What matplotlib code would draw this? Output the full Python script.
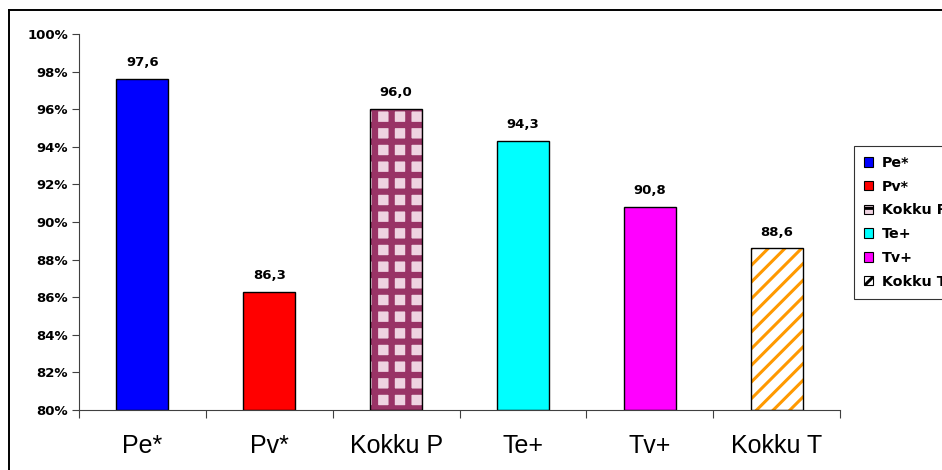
import matplotlib
matplotlib.use("Agg")
import matplotlib.pyplot as plt
from matplotlib.lines import Line2D
from matplotlib.patches import Patch
from matplotlib.ticker import FuncFormatter

# Data
categories = ["Pe*", "Pv*", "Kokku P", "Te+", "Tv+", "Kokku T"]
values = [97.6, 86.3, 96.0, 94.3, 90.8, 88.6]
y_ticks = [80, 82, 84, 86, 88, 90, 92, 94, 96, 98, 100]

# Styling per bar: (face, hatch, hatch colour, hatch width)
styles = [
    ("#0000FF", None, None, 0),
    ("#FF0000", None, None, 0),
    ("#EFD3E1", "+", "#993366", 4.5),
    ("#00FFFF", None, None, 0),
    ("#FF00FF", None, None, 0),
    ("#FFFFFF", "//", "#FF9900", 2.2),
]

plt.rcParams["font.family"] = ["DejaVu Sans"]
small = {"family": "DejaVu Sans", "weight": "bold", "size": 9.5}
legend_font = {"family": "DejaVu Sans", "weight": "bold", "size": 10.3}

fig = plt.figure(figsize=(9.42, 4.70), dpi=100)
ax = fig.add_axes([79 / 942, 1 - 410 / 470, (840 - 79) / 942, (410 - 34) / 470])

x = list(range(len(categories)))
width = 0.41
base = 80
handles = []
for i, (v, (face, hatch, hcol, hlw)) in enumerate(zip(values, styles)):
    if hatch:
        plt.rcParams["hatch.linewidth"] = hlw
        ax.bar(i, v - base, width, bottom=base, color=face, edgecolor=hcol,
               hatch=hatch, linewidth=0, zorder=2)
        ax.bar(i, v - base, width, bottom=base, fill=False, edgecolor="black",
               linewidth=1.0, zorder=3)
        handles.append(Patch(facecolor=face, edgecolor="black", hatch=hatch,
                             linewidth=0.8, label=categories[i]))
    else:
        ax.bar(i, v - base, width, bottom=base, color=face, edgecolor="black",
               linewidth=1.0, zorder=2)
        handles.append(Patch(facecolor=face, edgecolor="black", linewidth=0.8,
                             label=categories[i]))
    ax.annotate(f"{v:.1f}".replace(".", ","), (i, v), xytext=(0, 7),
                textcoords="offset points", ha="center", va="bottom",
                fontproperties=small)

ax.set_xlim(-0.5, len(categories) - 0.5)
ax.set_ylim(80, 100)
ax.set_yticks(y_ticks)
ax.yaxis.set_major_formatter(FuncFormatter(lambda v, p: f"{int(v)}%"))
for lab in ax.get_yticklabels():
    lab.set_fontproperties(small)

# category boundary ticks, labels centred under bars
ax.set_xticks([i - 0.5 for i in range(len(categories) + 1)])
ax.set_xticklabels([])
ax.set_xticks(x, minor=True)
ax.set_xticklabels(categories, minor=True, fontsize=18, family="Liberation Sans")
ax.tick_params(axis="x", which="minor", length=0, pad=17)
ax.tick_params(axis="x", which="major", length=6, width=0.8, color="#404040", direction="out")
ax.tick_params(axis="y", length=5, width=0.8, color="#404040", direction="out", pad=3)

for s in ("top", "right"):
    ax.spines[s].set_visible(False)
for s in ("left", "bottom"):
    ax.spines[s].set_color("#404040")
    ax.spines[s].set_linewidth(0.8)

leg = fig.legend(handles=handles, loc="upper left",
                 bbox_to_anchor=(854 / 942, 1 - 146 / 470), borderaxespad=0,
                 frameon=True, fancybox=False, edgecolor="black",
                 prop=legend_font, handlelength=0.65, handleheight=0.65,
                 handletextpad=0.6, labelspacing=0.68, borderpad=0.7)
leg.get_frame().set_linewidth(0.8)

# chart area border
fig.add_artist(Line2D([9 / 942, 1.0], [1 - 10 / 470] * 2, color="black",
                      linewidth=1.4, transform=fig.transFigure))
fig.add_artist(Line2D([9 / 942] * 2, [0.0, 1 - 10 / 470], color="black",
                      linewidth=1.4, transform=fig.transFigure))

fig.savefig("out.png", dpi=100)
